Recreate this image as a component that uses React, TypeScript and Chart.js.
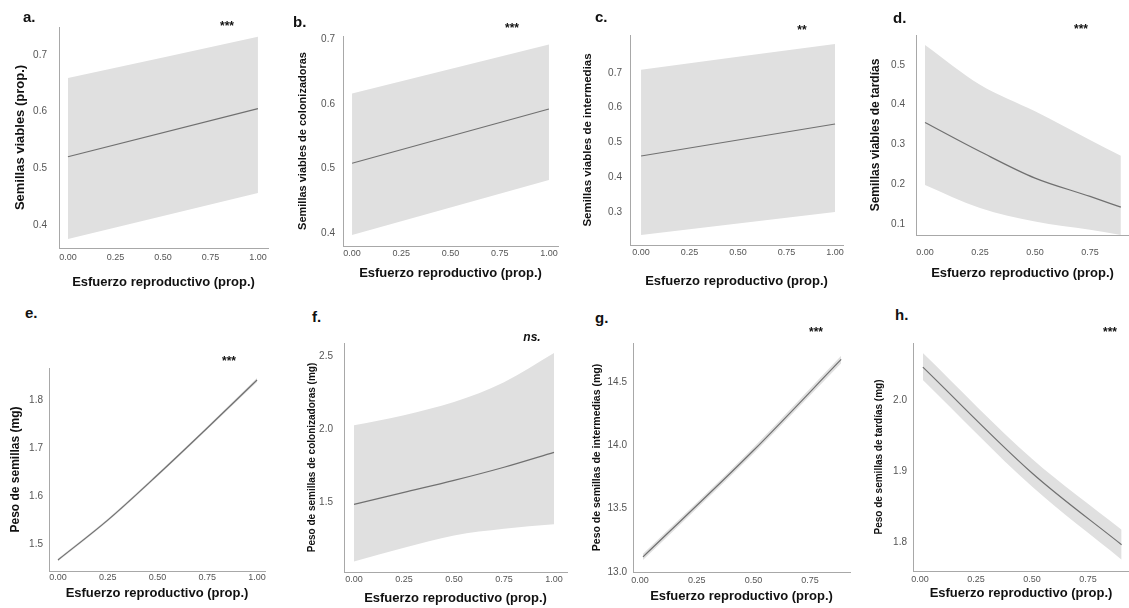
import React, { useEffect, useRef } from "react";
import { Chart, registerables } from "chart.js";

Chart.register(...registerables);

const FONT = "Arial, 'Liberation Sans', Helvetica, sans-serif";
Chart.defaults.font.family = FONT;

// ---------- shared ----------
const xTitle = "Esfuerzo reproductivo (prop.)";
const xTicksFull = [0, 0.25, 0.5, 0.75, 1];
const xTicksShort = [0, 0.25, 0.5, 0.75];

// ---------- a ----------
const aX = [0, 1];
const aFit = [0.52, 0.605];
const aLow = [0.375, 0.456];
const aUp = [0.659, 0.732];
const aYTicks = [0.4, 0.5, 0.6, 0.7];

// ---------- b ----------
const bX = [0, 1];
const bFit = [0.508, 0.592];
const bLow = [0.397, 0.482];
const bUp = [0.616, 0.692];
const bYTicks = [0.4, 0.5, 0.6, 0.7];

// ---------- c ----------
const cX = [0, 1];
const cFit = [0.461, 0.553];
const cLow = [0.234, 0.3];
const cUp = [0.709, 0.783];
const cYTicks = [0.3, 0.4, 0.5, 0.6, 0.7];

// ---------- d ----------
const dX = [0, 0.25, 0.5, 0.75, 0.89];
const dFit = [0.355, 0.282, 0.215, 0.169, 0.142];
const dLow = [0.198, 0.14, 0.106, 0.085, 0.072];
const dUp = [0.55, 0.45, 0.383, 0.311, 0.271];
const dYTicks = [0.1, 0.2, 0.3, 0.4, 0.5];

// ---------- e ----------
const eX = [0, 0.25, 0.5, 0.75, 1];
const eFit = [1.467, 1.55, 1.644, 1.742, 1.842];
const eLow = [1.464, 1.547, 1.641, 1.739, 1.838];
const eUp = [1.47, 1.553, 1.647, 1.745, 1.846];
const eYTicks = [1.5, 1.6, 1.7, 1.8];

// ---------- f ----------
const fX = [0, 0.25, 0.5, 0.75, 1];
const fFit = [1.486, 1.568, 1.65, 1.74, 1.842];
const fLow = [1.096, 1.19, 1.274, 1.32, 1.35];
const fUp = [2.027, 2.096, 2.185, 2.32, 2.52];
const fYTicks = [1.5, 2.0, 2.5];

// ---------- g ----------
const gX = [0.013, 0.5, 0.887];
const gFit = [13.12, 13.96, 14.68];
const gLow = [13.095, 13.935, 14.65];
const gUp = [13.145, 13.985, 14.71];
const gYTicks = [13.0, 13.5, 14.0, 14.5];

// ---------- h ----------
const hX = [0.013, 0.5, 0.9];
const hFit = [2.046, 1.897, 1.796];
const hLow = [2.028, 1.878, 1.775];
const hUp = [2.066, 1.917, 1.817];
const hYTicks = [1.8, 1.9, 2.0];

type Panel = {
  label: string;
  sig: string;
  sigItalic?: boolean;
  xs: number[];
  fit: number[];
  low: number[];
  up: number[];
  yTicks: number[];
  xTicks: number[];
  xMin: number;
  xMax: number;
  yMin: number;
  yMax: number;
  yTitle: string;
  yTitleSize: number;
  axL: number;
  axT: number;
  axR: number;
  axB: number;
  yTitleX: number;
  xTitleY: number;
  yPad: number;
  xPad: number;
  labX: number;
  labBase: number;
  sigX: number;
  sigY: number;
};

const panels: Panel[] = [
  {
    label: "a.", sig: "***", xs: aX, fit: aFit, low: aLow, up: aUp, yTicks: aYTicks, xTicks: xTicksFull,
    xMin: -0.047, xMax: 1.053, yMin: 0.359, yMax: 0.749,
    yTitle: "Semillas viables (prop.)", yTitleSize: 13,
    axL: 59, axT: 27, axR: 268, axB: 248, yTitleX: 21, xTitleY: 282, yPad: 12, xPad: 4,
    labX: 23, labBase: 22, sigX: 227, sigY: 23,
  },
  {
    label: "b.", sig: "***", xs: bX, fit: bFit, low: bLow, up: bUp, yTicks: bYTicks, xTicks: xTicksFull,
    xMin: -0.046, xMax: 1.046, yMin: 0.38, yMax: 0.705,
    yTitle: "Semillas viables de colonizadoras", yTitleSize: 11,
    axL: 343, axT: 36, axR: 558, axB: 246, yTitleX: 303, xTitleY: 273, yPad: 8, xPad: 2,
    labX: 293, labBase: 27, sigX: 512, sigY: 25,
  },
  {
    label: "c.", sig: "**", xs: cX, fit: cFit, low: cLow, up: cUp, yTicks: cYTicks, xTicks: xTicksFull,
    xMin: -0.057, xMax: 1.041, yMin: 0.205, yMax: 0.809,
    yTitle: "Semillas viables de intermedias", yTitleSize: 11.5,
    axL: 630, axT: 35, axR: 843, axB: 245, yTitleX: 588, xTitleY: 281, yPad: 8, xPad: 2,
    labX: 595, labBase: 22, sigX: 802, sigY: 27,
  },
  {
    label: "d.", sig: "***", xs: dX, fit: dFit, low: dLow, up: dUp, yTicks: dYTicks, xTicks: xTicksShort,
    xMin: -0.041, xMax: 0.927, yMin: 0.072, yMax: 0.575,
    yTitle: "Semillas viables de tardías", yTitleSize: 12,
    axL: 916, axT: 35, axR: 1129, axB: 235, yTitleX: 875, xTitleY: 273, yPad: 11, xPad: 12,
    labX: 893, labBase: 23, sigX: 1081, sigY: 26,
  },
  {
    label: "e.", sig: "***", xs: eX, fit: eFit, low: eLow, up: eUp, yTicks: eYTicks, xTicks: xTicksFull,
    xMin: -0.045, xMax: 1.04, yMin: 1.444, yMax: 1.867,
    yTitle: "Peso de semillas (mg)", yTitleSize: 12,
    axL: 49, axT: 368, axR: 265, axB: 571, yTitleX: 15, xTitleY: 593, yPad: 6, xPad: 1,
    labX: 25, labBase: 318, sigX: 229, sigY: 358,
  },
  {
    label: "f.", sig: "ns.", sigItalic: true, xs: fX, fit: fFit, low: fLow, up: fUp, yTicks: fYTicks, xTicks: xTicksFull,
    xMin: -0.05, xMax: 1.065, yMin: 1.024, yMax: 2.589,
    yTitle: "Peso de semillas de colonizadoras (mg)", yTitleSize: 10,
    axL: 344, axT: 343, axR: 567, axB: 572, yTitleX: 312, xTitleY: 598, yPad: 11, xPad: 2,
    labX: 312, labBase: 322, sigX: 532, sigY: 338,
  },
  {
    label: "g.", sig: "***", xs: gX, fit: gFit, low: gLow, up: gUp, yTicks: gYTicks, xTicks: xTicksShort,
    xMin: -0.031, xMax: 0.926, yMin: 13.0, yMax: 14.81,
    yTitle: "Peso de semillas de intermedias (mg)", yTitleSize: 10.5,
    axL: 633, axT: 343, axR: 850, axB: 572, yTitleX: 597, xTitleY: 596, yPad: 6, xPad: 3,
    labX: 595, labBase: 323, sigX: 816, sigY: 329,
  },
  {
    label: "h.", sig: "***", xs: hX, fit: hFit, low: hLow, up: hUp, yTicks: hYTicks, xTicks: xTicksShort,
    xMin: -0.031, xMax: 0.933, yMin: 1.759, yMax: 2.08,
    yTitle: "Peso de semillas de tardías (mg)", yTitleSize: 10,
    axL: 913, axT: 343, axR: 1129, axB: 571, yTitleX: 879, xTitleY: 593, yPad: 6, xPad: 3,
    labX: 895, labBase: 320, sigX: 1110, sigY: 329,
  },
];

const X_TITLE_SIZE = 13;
const AXIS_COLOR = "#a8a8a8";
const TICK_COLOR = "#555555";
const BAND_COLOR = "#e0e0e0";
const LINE_COLOR = "#707070";

function geom(p: Panel) {
  const yLH = p.yTitleSize * 1.2;
  const xLH = X_TITLE_SIZE * 1.2;
  const left = Math.round(p.yTitleX - yLH / 2);
  const top = p.axT - 6;
  const right = Math.min(p.axR + 6, 1129);
  const bottom = Math.round(p.xTitleY + xLH / 2);
  return {
    left,
    top,
    width: right - left,
    height: bottom - top,
    padTop: 6,
    padRight: right - p.axR,
    yWidth: p.axL - left,
    xHeight: bottom - p.axB,
  };
}

function PanelChart({ p }: { p: Panel }) {
  const ref = useRef<HTMLCanvasElement | null>(null);
  const g = geom(p);
  useEffect(() => {
    if (!ref.current) return;
    const pts = (ys: number[]) => p.xs.map((x, i) => ({ x, y: ys[i] }));
    const chart = new Chart(ref.current, {
      type: "line",
      data: {
        datasets: [
          {
            data: pts(p.fit),
            borderWidth: 1.2,
            borderColor: LINE_COLOR,
            fill: false,
            pointRadius: 0,
            tension: 0.4,
            cubicInterpolationMode: "monotone",
            order: 0,
          },
          {
            data: pts(p.up),
            borderWidth: 0,
            borderColor: "rgba(0,0,0,0)",
            backgroundColor: BAND_COLOR,
            fill: "+1",
            pointRadius: 0,
            tension: 0.4,
            cubicInterpolationMode: "monotone",
            order: 1,
          },
          {
            data: pts(p.low),
            borderWidth: 0,
            borderColor: "rgba(0,0,0,0)",
            backgroundColor: BAND_COLOR,
            fill: false,
            pointRadius: 0,
            tension: 0.4,
            cubicInterpolationMode: "monotone",
            order: 2,
          },
        ],
      },
      options: {
        responsive: false,
        animation: false,
        events: [],
        layout: { padding: { top: g.padTop, right: g.padRight, left: 0, bottom: 0 } },
        plugins: {
          legend: { display: false },
          tooltip: { enabled: false },
          filler: { drawTime: "beforeDatasetsDraw" },
        },
        scales: {
          x: {
            type: "linear",
            min: p.xMin,
            max: p.xMax,
            grid: { display: false, drawTicks: false },
            border: { display: true, color: AXIS_COLOR, width: 1 },
            ticks: {
              font: { size: 9, family: FONT },
              color: TICK_COLOR,
              padding: p.xPad,
              autoSkip: false,
              maxRotation: 0,
              callback: (v: any) => Number(v).toFixed(2),
            },
            afterBuildTicks: (s: any) => {
              s.ticks = p.xTicks.map((v) => ({ value: v }));
            },
            afterFit: (s: any) => {
              s.height = g.xHeight;
              s.paddingLeft = 0;
              s.paddingRight = 0;
            },
            title: {
              display: true,
              text: xTitle,
              color: "#111111",
              padding: 0,
              font: { size: X_TITLE_SIZE, weight: "bold", family: FONT },
            },
          },
          y: {
            type: "linear",
            min: p.yMin,
            max: p.yMax,
            grid: { display: false, drawTicks: false },
            border: { display: true, color: AXIS_COLOR, width: 1 },
            ticks: {
              font: { size: 10, family: FONT },
              color: TICK_COLOR,
              padding: p.yPad,
              autoSkip: false,
              callback: (v: any) => Number(v).toFixed(1),
            },
            afterBuildTicks: (s: any) => {
              s.ticks = p.yTicks.map((v) => ({ value: v }));
            },
            afterFit: (s: any) => {
              s.width = g.yWidth;
              s.paddingTop = 0;
              s.paddingBottom = 0;
            },
            title: {
              display: true,
              text: p.yTitle,
              color: "#111111",
              padding: 0,
              font: { size: p.yTitleSize, weight: "bold", family: FONT },
            },
          },
        },
      },
    } as any);
    return () => chart.destroy();
  }, []);
  return (
    <canvas
      ref={ref}
      width={g.width}
      height={g.height}
      style={{ position: "absolute", left: g.left, top: g.top, width: g.width, height: g.height }}
    />
  );
}

export default function App() {
  return (
    <div
      style={{
        position: "absolute",
        left: 0,
        top: 0,
        width: 1129,
        height: 608,
        background: "#ffffff",
        overflow: "hidden",
        fontFamily: FONT,
      }}
    >
      {panels.map((p, i) => (
        <PanelChart key={i} p={p} />
      ))}
      {panels.map((p, i) => (
        <div
          key={"lab" + i}
          style={{
            position: "absolute",
            left: p.labX,
            top: p.labBase - 12.7,
            fontSize: 15,
            lineHeight: "15px",
            fontWeight: "bold",
            color: "#111",
            whiteSpace: "nowrap",
          }}
        >
          {p.label}
        </div>
      ))}
      {panels.map((p, i) => (
        <div
          key={"sig" + i}
          style={{
            position: "absolute",
            left: p.sigX,
            top: p.sigItalic ? p.sigY - 7.1 : p.sigY - 3.4,
            transform: "translateX(-50%)",
            fontSize: 12,
            lineHeight: "12px",
            fontWeight: "bold",
            fontStyle: p.sigItalic ? "italic" : "normal",
            color: "#111",
            whiteSpace: "nowrap",
          }}
        >
          {p.sig}
        </div>
      ))}
    </div>
  );
}
